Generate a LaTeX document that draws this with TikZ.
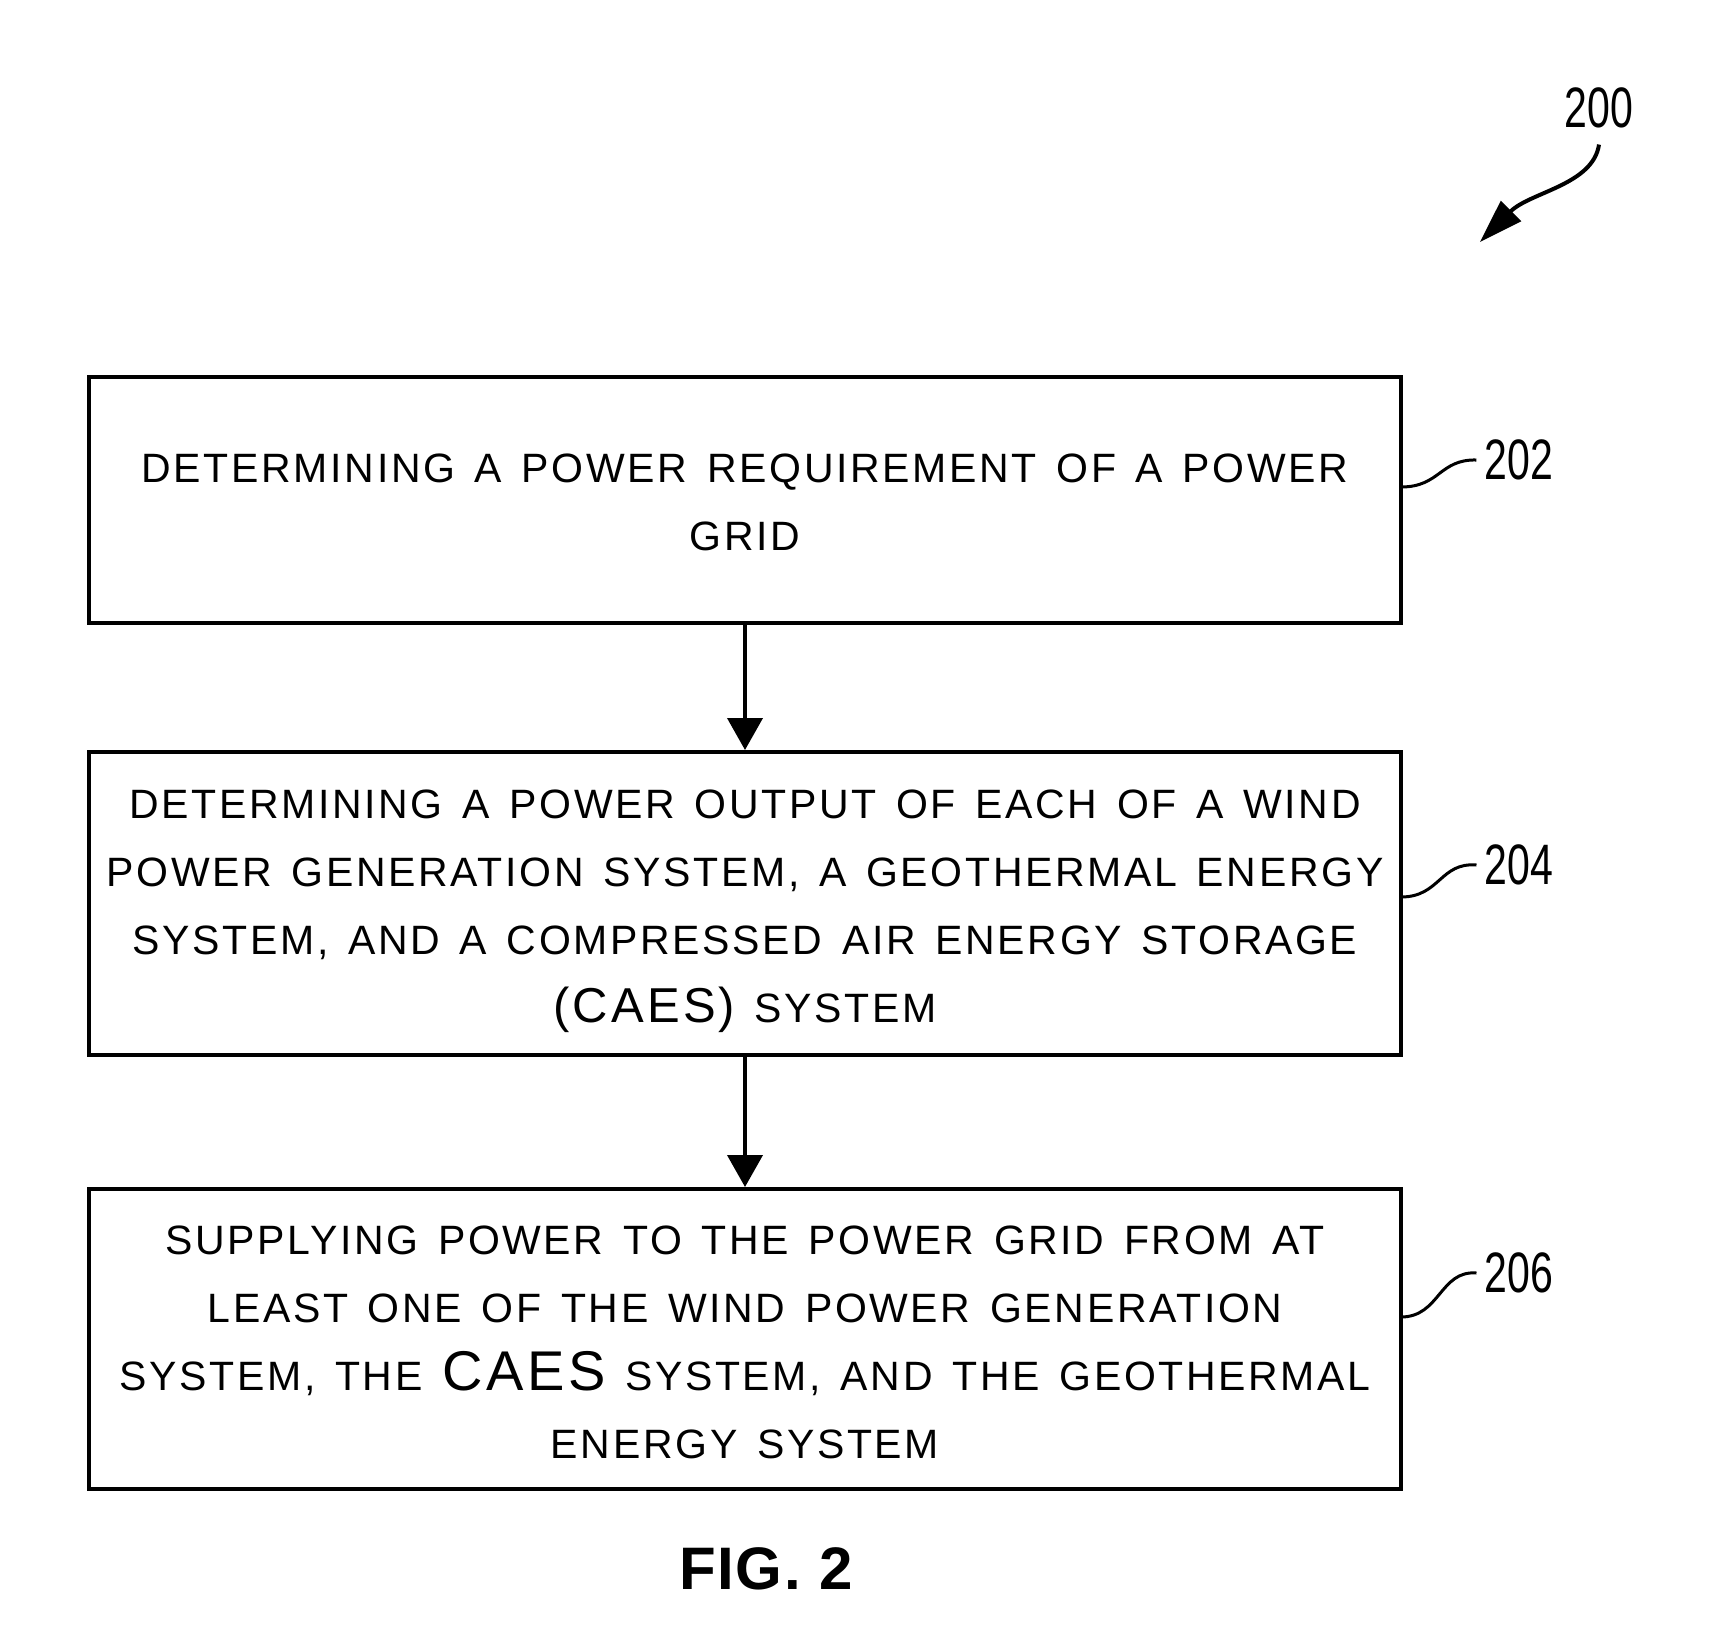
\documentclass[tikz,border=0pt]{standalone}
\usepackage{fontspec}
\setmainfont{Liberation Sans}
\newfontfamily\boxfont{Liberation Sans}[LetterSpace=6.5,WordSpace=1.4]
\newfontfamily\figfont{Liberation Sans}[LetterSpace=3]
\usetikzlibrary{arrows.meta}
\begin{document}
\begin{tikzpicture}[x=0.5pt,y=-0.5pt,
  stepbox/.style={draw=black,line width=2pt,minimum width=656pt,inner sep=0pt},
  boxtext/.style={inner sep=0pt,align=center,font=\boxfont\fontsize{20.5}{34}\selectfont},
  flow/.style={line width=2pt,-{Triangle[length=16pt,width=17.5pt]}},
  leader/.style={line width=1.5pt},
  reflabel/.style={inner sep=0pt,xscale=0.72,font=\fontsize{28.5}{30}\selectfont}]
\useasboundingbox (0,0) rectangle (1718,1627);
\node[stepbox,minimum height=123pt] (b1) at (745,500) {};
\node[boxtext] (t1) at ([yshift=-1.1pt]b1.center)
  {DETERMINING A POWER REQUIREMENT OF A POWER\\GRID};
\node[stepbox,minimum height=151.5pt] (b2) at (745,903.5) {};
\node[boxtext] (t2) at ([yshift=-3.8pt]b2.center)
  {DETERMINING A POWER OUTPUT OF EACH OF A WIND\\POWER GENERATION SYSTEM, A GEOTHERMAL ENERGY\\SYSTEM, AND A COMPRESSED AIR ENERGY STORAGE\\{\fontsize{24.5}{34}\selectfont(CAES)} SYSTEM};
\node[stepbox,minimum height=150pt] (b3) at (745,1339) {};
\node[boxtext] (t3) at ([yshift=-1.6pt]b3.center)
  {SUPPLYING POWER TO THE POWER GRID FROM AT\\LEAST ONE OF THE WIND POWER GENERATION\\SYSTEM, THE {\fontsize{28}{34}\selectfont CAES} SYSTEM, AND THE GEOTHERMAL\\ENERGY SYSTEM};
\draw[flow] (b1) -- (b2);
\draw[flow] (b2) -- (b3);
\node[reflabel] (l202) at (1519,460) {202};
\node[reflabel] (l204) at (1519,865) {204};
\node[reflabel] (l206) at (1519,1273) {206};
\node[reflabel] (l200) at (1599,108) {200};
\coordinate (s202) at (1401,487);
\coordinate (s204) at (1401,897);
\coordinate (s206) at (1401,1317);
\draw[leader] (s202) .. controls (1440,487) and (1440,459) .. ([xshift=-4pt]l202.west);
\draw[leader] (s204) .. controls (1440,897) and (1440,862) .. ([xshift=-4pt]l204.west);
\draw[leader] (s206) .. controls (1440,1317) and (1440,1270) .. ([xshift=-4pt]l206.west);
\coordinate (t200) at (1480,242);
\draw[line width=2pt,-{Triangle[length=22pt,width=14pt]}] ([yshift=-8pt]l200.south) .. controls (1593,185) and (1530,192) .. (t200);
\node[inner sep=0pt,font=\figfont\bfseries\fontsize{30}{32}\selectfont] (fig) at (766,1569) {FIG. 2};
\end{tikzpicture}
\end{document}
